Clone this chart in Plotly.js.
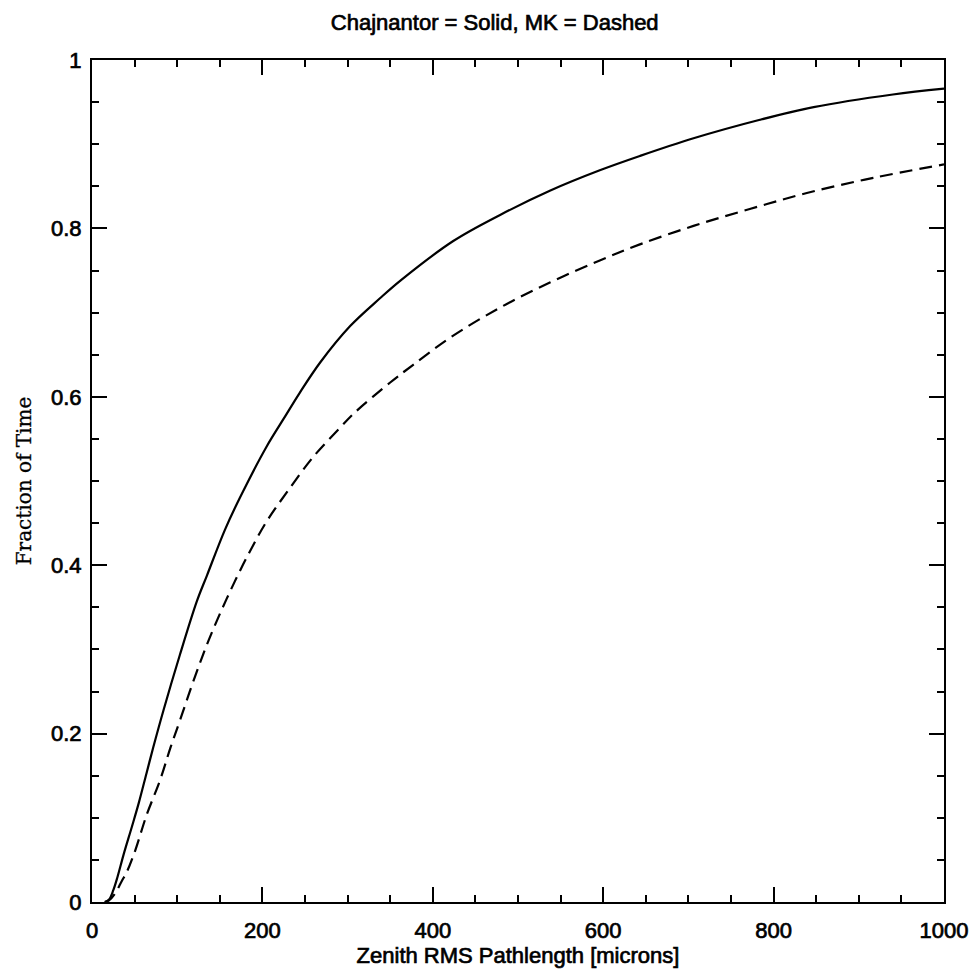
<!DOCTYPE html>
<html>
<head>
<meta charset="utf-8">
<script src="https://cdn.plot.ly/plotly-3.0.1.min.js"></script>
<style>
html,body{margin:0;padding:0;background:#fff;}
#chart{width:972px;height:980px;}
#chart text.xtick, #chart text.ytick, #chart .xtick text, #chart .ytick text, #chart .gtitle, #chart .xtitle {stroke:#000; stroke-width:0.7px;}
#chart .ytitle {stroke:#000; stroke-width:0.3px;}
</style>
</head>
<body>
<div id="chart"></div>
<script>
// Chajnantor (solid)
const chajX = [15, 20, 25, 30, 37, 47, 55, 64, 72, 84, 103, 123, 135, 156, 174, 205, 225, 244, 268, 303, 338, 362, 424, 479, 538, 596, 643, 706, 784, 847, 940, 1000];
const chajY = [0, 0.003, 0.014, 0.030, 0.056, 0.090, 0.118, 0.153, 0.184, 0.228, 0.293, 0.357, 0.388, 0.442, 0.481, 0.541, 0.574, 0.605, 0.641, 0.684, 0.717, 0.738, 0.785, 0.816, 0.845, 0.869, 0.886, 0.907, 0.929, 0.944, 0.959, 0.966];
// Mauna Kea (dashed)
const mkX = [15, 20, 27, 35, 41, 51, 64, 80, 92, 103, 121, 137, 158, 182, 205, 229, 260, 291, 307, 350, 377, 420, 479, 538, 596, 643, 706, 772, 839, 917, 1000];
const mkY = [0, 0.002, 0.010, 0.025, 0.036, 0.062, 0.103, 0.145, 0.183, 0.215, 0.268, 0.311, 0.360, 0.410, 0.452, 0.487, 0.529, 0.563, 0.580, 0.617, 0.638, 0.670, 0.706, 0.736, 0.762, 0.781, 0.803, 0.823, 0.842, 0.860, 0.876];

const xTickVals = [0, 200, 400, 600, 800, 1000];
const xTickText = ["0", "200", "400", "600", "800", "1000"];
const yTickVals = [0, 0.2, 0.4, 0.6, 0.8, 1];
const yTickText = ["0", "0.2", "0.4", "0.6", "0.8", "1"];

const titleText = "Chajnantor = Solid, MK = Dashed";
const xTitle = "Zenith RMS Pathlength [microns]";
const yTitle = "Fraction of Time";

const sans = "Liberation Sans, Arial, Helvetica, sans-serif";

const traces = [
  {x: chajX, y: chajY, type: "scatter", mode: "lines", name: "Chajnantor",
   line: {color: "#000", width: 2.2, shape: "spline", smoothing: 1}},
  {x: mkX, y: mkY, type: "scatter", mode: "lines", name: "MK",
   line: {color: "#000", width: 2.2, dash: "13px,7px", shape: "spline", smoothing: 1}}
];

const axisCommon = {
  showline: true, linecolor: "#000", linewidth: 2,
  mirror: "allticks", ticks: "inside", ticklen: 15, tickwidth: 2, tickcolor: "#000",
  showgrid: false, zeroline: false,
  tickfont: {family: sans, size: 22, color: "#000"}
};

const layout = {
  width: 972, height: 980,
  margin: {l: 92, r: 28, t: 60, b: 78},
  paper_bgcolor: "#fff", plot_bgcolor: "#fff",
  showlegend: false,
  title: {text: titleText, font: {family: sans, size: 22, color: "#000"},
          xref: "container", yref: "container", x: 0.509, xanchor: "center", y: 0.977, yanchor: "middle"},
  xaxis: Object.assign({}, axisCommon, {
    range: [0, 1000], tickmode: "array", tickvals: xTickVals, ticktext: xTickText,
    ticklabelstandoff: 8,
    minor: {dtick: 50, ticks: "inside", ticklen: 7, tickwidth: 2, tickcolor: "#000", showgrid: false},
    title: {text: xTitle, font: {family: sans, size: 22, color: "#000"}, standoff: 4}
  }),
  yaxis: Object.assign({}, axisCommon, {
    range: [0, 1], tickmode: "array", tickvals: yTickVals, ticktext: yTickText,
    ticklabelstandoff: 4,
    minor: {dtick: 0.05, ticks: "inside", ticklen: 7, tickwidth: 2, tickcolor: "#000", showgrid: false},
    title: {text: yTitle, font: {family: "DejaVu Serif, serif", size: 20, color: "#000"}, standoff: 14}
  })
};

Plotly.newPlot("chart", traces, layout, {displayModeBar: false, staticPlot: true});
</script>
</body>
</html>
